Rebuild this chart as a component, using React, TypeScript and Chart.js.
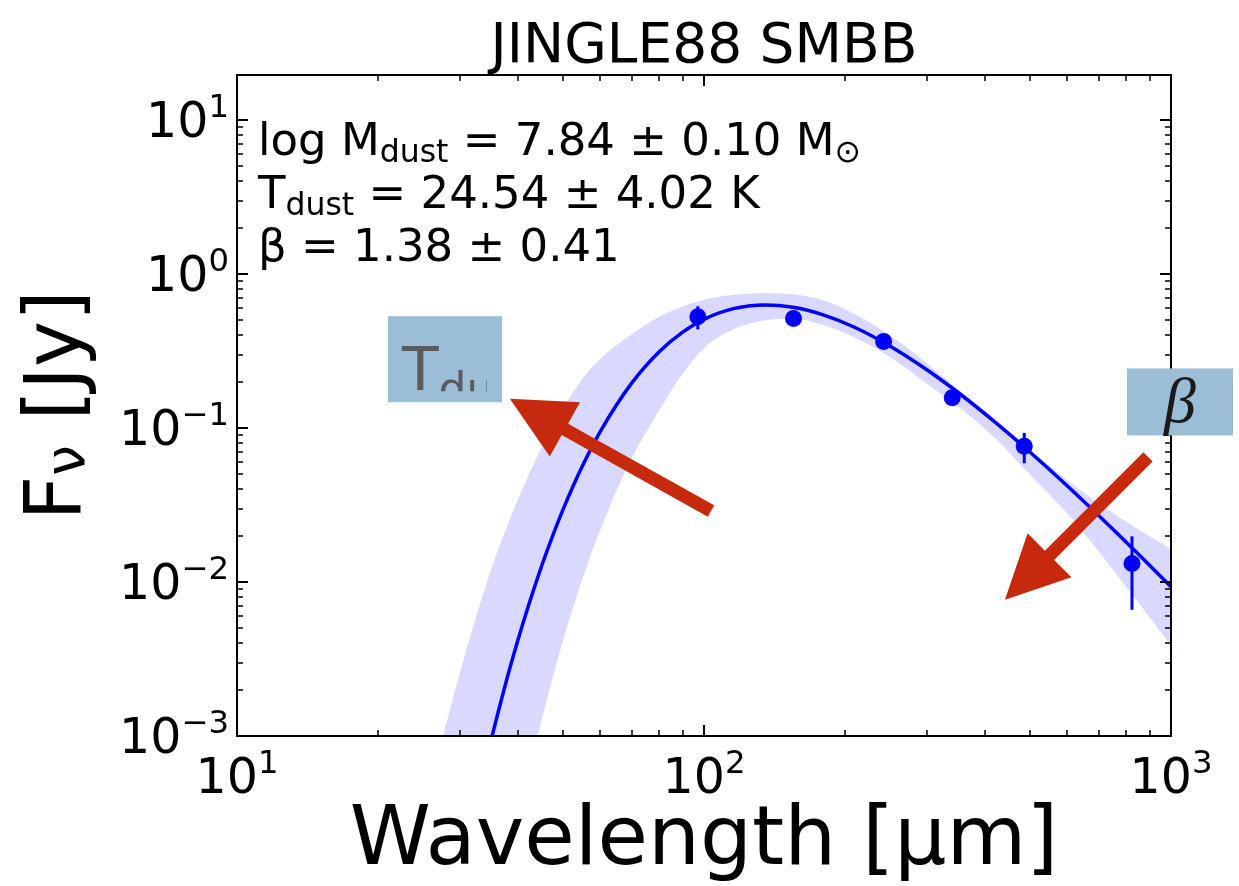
import { useEffect, useRef } from "react";
import { Chart, registerables } from "chart.js";
Chart.register(...registerables);

const W = 1239;
const H = 886;
const FONT = '"DejaVu Sans", "Noto Sans", sans-serif';
const BLUE = "#0000ff";
const RED = "#c7290c";
const BOXC = "#9bbdd5";

// Model SED, Jy
const wavelengths = [27, 30, 33, 35, 38, 40, 42, 45, 47, 50, 55, 60, 70, 80, 90, 100, 115, 135, 155, 180, 210, 250, 300, 350, 420, 500, 600, 700, 850, 1000];
const modelFlux = [2.04e-5, 1.13e-4, 4.4e-4, 9.39e-4, 2.46e-3, 4.25e-3, 6.89e-3, 0.01294, 0.01859, 0.02997, 0.0573, 0.0952, 0.1957, 0.3109, 0.4195, 0.5077, 0.5934, 0.63, 0.6085, 0.5433, 0.4513, 0.3411, 0.239, 0.17, 0.1092, 0.0693, 0.042, 0.027, 0.01523, 0.00931];
const upperFlux = [7.76e-4, 0.00256, 0.00693, 0.012, 0.0237, 0.0347, 0.0486, 0.0759, 0.0982, 0.1368, 0.21, 0.2818, 0.4055, 0.525, 0.615, 0.681, 0.731, 0.75, 0.738, 0.675, 0.55, 0.4, 0.2636, 0.1778, 0.1117, 0.0714, 0.0458, 0.0325, 0.022, 0.01644];
const lowerFlux = [1.7e-7, 1.8e-6, 1.1e-5, 3.2e-5, 1.37e-4, 2.84e-4, 5.5e-4, 0.0013, 0.00217, 0.00425, 0.0106, 0.0219, 0.0637, 0.1288, 0.225, 0.33, 0.435, 0.5, 0.513, 0.468, 0.387, 0.29, 0.194, 0.138, 0.0859, 0.0494, 0.0278, 0.0158, 0.00738, 0.00387];

// Observed photometry
const obsWave = [97, 155.5, 242.5, 340, 485, 825];
const obsFlux = [0.527, 0.514, 0.364, 0.157, 0.076, 0.0132];
const obsErr = [0.09, 0.03, 0.02, 0.012, 0.017, 0.0066];

// Axes
const xMin = 10;
const xMax = 1000;
const yMin = 0.001;
const yMax = 19.6;
const xMajorTicks = [10, 100, 1000];
const xTickExps = ["1", "2", "3"];
const yMajorTicks = [0.001, 0.01, 0.1, 1, 10];
const yTickExps = ["\u22123", "\u22122", "\u22121", "0", "1"];

const titleText = "JINGLE88 SMBB";
const xTitle = "Wavelength [\u00b5m]";

type Run = { t: string; sub?: boolean };
const infoLines: Run[][] = [
  [{ t: "log M" }, { t: "dust", sub: true }, { t: " = 7.84 \u00b1 0.10 M" }, { t: "\u2299", sub: true }],
  [{ t: "T" }, { t: "dust", sub: true }, { t: " = 24.54 \u00b1 4.02 K" }],
  [{ t: "\u03b2 = 1.38 \u00b1 0.41" }],
];

// Annotation anchors in data coordinates (wavelength, flux)
const tBoxAnchor = [21.05, 0.532];
const betaBoxAnchor = [805, 0.2437];
const arrowT = { from: [103.5, 0.0289], to: [38.4, 0.155] };
const arrowBeta = { from: [892.8, 0.065], to: [441, 0.00766] };

function minorTicks(lo: number, hi: number): number[] {
  const out: number[] = [];
  for (let e = Math.floor(Math.log10(lo)); e <= Math.ceil(Math.log10(hi)); e++) {
    for (let m = 2; m <= 9; m++) {
      const v = m * Math.pow(10, e);
      if (v > lo && v < hi) out.push(v);
    }
  }
  return out;
}

function drawSci(ctx: CanvasRenderingContext2D, exp: string, x: number, y: number, align: "right" | "center", size: number) {
  const sup = size * 0.66;
  ctx.font = `${size}px ${FONT}`;
  const wb = ctx.measureText("10").width;
  ctx.font = `${sup}px ${FONT}`;
  const we = ctx.measureText(exp).width;
  const total = wb + we;
  const x0 = align === "right" ? x - total : x - total / 2;
  ctx.textAlign = "left";
  ctx.textBaseline = "alphabetic";
  ctx.font = `${size}px ${FONT}`;
  ctx.fillText("10", x0, y);
  ctx.font = `${sup}px ${FONT}`;
  ctx.fillText(exp, x0 + wb, y - size * 0.41);
}

function drawRuns(ctx: CanvasRenderingContext2D, runs: Run[], x: number, y: number, size: number) {
  let cx = x;
  ctx.textAlign = "left";
  ctx.textBaseline = "alphabetic";
  for (const r of runs) {
    const s = r.sub ? size * 0.7 : size;
    ctx.font = `${s}px ${FONT}`;
    ctx.fillText(r.t, cx, r.sub ? y + size * 0.15 : y);
    cx += ctx.measureText(r.t).width;
  }
}

function drawArrow(ctx: CanvasRenderingContext2D, x1: number, y1: number, x2: number, y2: number) {
  const shaft = 13;
  const headL = 63;
  const headW = 62;
  const dx = x2 - x1;
  const dy = y2 - y1;
  const len = Math.hypot(dx, dy);
  const ux = dx / len;
  const uy = dy / len;
  const nx = -uy;
  const ny = ux;
  const bx = x2 - ux * headL;
  const by = y2 - uy * headL;
  ctx.beginPath();
  ctx.moveTo(x1 + (nx * shaft) / 2, y1 + (ny * shaft) / 2);
  ctx.lineTo(bx + (nx * shaft) / 2, by + (ny * shaft) / 2);
  ctx.lineTo(bx + (nx * headW) / 2, by + (ny * headW) / 2);
  ctx.lineTo(x2, y2);
  ctx.lineTo(bx - (nx * headW) / 2, by - (ny * headW) / 2);
  ctx.lineTo(bx - (nx * shaft) / 2, by - (ny * shaft) / 2);
  ctx.lineTo(x1 - (nx * shaft) / 2, y1 - (ny * shaft) / 2);
  ctx.closePath();
  ctx.fillStyle = RED;
  ctx.fill();
}

const decorPlugin = {
  id: "decor",
  beforeDraw(chart: any) {
    const ctx = chart.ctx;
    ctx.save();
    ctx.fillStyle = "#ffffff";
    ctx.fillRect(0, 0, chart.width, chart.height);
    ctx.restore();
  },
  beforeDatasetDraw(chart: any, args: any) {
    if (args.index !== 3) return;
    const ctx = chart.ctx;
    const xs = chart.scales.x;
    const ys = chart.scales.y;
    const { left, right, top, bottom } = chart.chartArea;
    ctx.save();
    ctx.beginPath();
    ctx.rect(left, top, right - left, bottom - top);
    ctx.clip();
    ctx.strokeStyle = BLUE;
    ctx.lineWidth = 3;
    obsWave.forEach((w, i) => {
      const px = xs.getPixelForValue(w);
      ctx.beginPath();
      ctx.moveTo(px, ys.getPixelForValue(obsFlux[i] + obsErr[i]));
      ctx.lineTo(px, ys.getPixelForValue(obsFlux[i] - obsErr[i]));
      ctx.stroke();
    });
    ctx.restore();
  },
  afterDraw(chart: any) {
    const ctx: CanvasRenderingContext2D = chart.ctx;
    const xs = chart.scales.x;
    const ys = chart.scales.y;
    const { left, right, top, bottom } = chart.chartArea;
    ctx.save();
    ctx.fillStyle = "#000";
    ctx.strokeStyle = "#000";

    // ticks (inward, all sides)
    const majL = 11;
    const minL = 6;
    ctx.lineWidth = 2;
    xMajorTicks.forEach((v) => {
      const p = Math.round(xs.getPixelForValue(v));
      ctx.beginPath();
      ctx.moveTo(p, bottom);
      ctx.lineTo(p, bottom - majL);
      ctx.moveTo(p, top);
      ctx.lineTo(p, top + majL);
      ctx.stroke();
    });
    yMajorTicks.forEach((v) => {
      const p = Math.round(ys.getPixelForValue(v));
      ctx.beginPath();
      ctx.moveTo(left, p);
      ctx.lineTo(left + majL, p);
      ctx.moveTo(right, p);
      ctx.lineTo(right - majL, p);
      ctx.stroke();
    });
    ctx.lineWidth = 1.5;
    minorTicks(xMin, xMax).forEach((v) => {
      const p = Math.round(xs.getPixelForValue(v));
      ctx.beginPath();
      ctx.moveTo(p, bottom);
      ctx.lineTo(p, bottom - minL);
      ctx.moveTo(p, top);
      ctx.lineTo(p, top + minL);
      ctx.stroke();
    });
    minorTicks(yMin, yMax).forEach((v) => {
      const p = Math.round(ys.getPixelForValue(v));
      ctx.beginPath();
      ctx.moveTo(left, p);
      ctx.lineTo(left + minL, p);
      ctx.moveTo(right, p);
      ctx.lineTo(right - minL, p);
      ctx.stroke();
    });
    // spines
    ctx.lineWidth = 2;
    ctx.strokeRect(left, top, right - left, bottom - top);

    // tick labels
    const tsz = 49;
    xMajorTicks.forEach((v, i) => {
      drawSci(ctx, xTickExps[i], xs.getPixelForValue(v), bottom + 57, "center", tsz);
    });
    yMajorTicks.forEach((v, i) => {
      drawSci(ctx, yTickExps[i], left - 8, ys.getPixelForValue(v) + 17, "right", tsz);
    });

    // title
    ctx.textAlign = "center";
    ctx.textBaseline = "alphabetic";
    ctx.font = `55px ${FONT}`;
    ctx.fillText(titleText, (left + right) / 2, 62);

    // x title
    ctx.font = `82px ${FONT}`;
    ctx.fillText(xTitle, (left + right) / 2, 864);

    // y title (rotated)
    ctx.save();
    ctx.translate(80, (top + bottom) / 2);
    ctx.rotate(-Math.PI / 2);
    ctx.textAlign = "left";
    const big = 78;
    ctx.font = `${big}px ${FONT}`;
    const wF = ctx.measureText("F").width;
    ctx.font = `${big * 0.7}px ${FONT}`;
    const wNu = ctx.measureText("\u03bd").width;
    ctx.font = `${big}px ${FONT}`;
    const wRest = ctx.measureText(" [Jy]").width;
    const tot = wF + wNu + wRest;
    let u = -tot / 2;
    ctx.fillText("F", u, 0);
    u += wF;
    ctx.font = `${big * 0.7}px ${FONT}`;
    ctx.fillText("\u03bd", u, 4);
    u += wNu;
    ctx.font = `${big}px ${FONT}`;
    ctx.fillText(" [Jy]", u, 0);
    ctx.restore();

    // info text
    ctx.fillStyle = "#000";
    const isz = 45;
    infoLines.forEach((runs, i) => {
      drawRuns(ctx, runs, left + 21, top + 80 + i * 53, isz);
    });

    // T_dust box
    const tbx = xs.getPixelForValue(tBoxAnchor[0]);
    const tby = ys.getPixelForValue(tBoxAnchor[1]);
    ctx.fillStyle = BOXC;
    ctx.fillRect(tbx, tby, 114, 86);
    ctx.save();
    ctx.beginPath();
    ctx.rect(tbx, tby, 99, 75);
    ctx.clip();
    ctx.fillStyle = "#5b5b5b";
    ctx.textAlign = "left";
    ctx.font = `60px ${FONT}`;
    ctx.fillText("T", tbx + 14, tby + 74);
    const wT = ctx.measureText("T").width;
    ctx.font = `44px ${FONT}`;
    ctx.fillText("dust", tbx + 14 + wT, tby + 88);
    ctx.restore();

    // beta box
    const bbx = xs.getPixelForValue(betaBoxAnchor[0]);
    const bby = ys.getPixelForValue(betaBoxAnchor[1]);
    ctx.fillStyle = BOXC;
    ctx.fillRect(bbx, bby, 106, 67);
    ctx.fillStyle = "#1a1a1a";
    ctx.textAlign = "center";
    ctx.font = `italic 64px "Liberation Serif", "DejaVu Serif", serif`;
    ctx.fillText("\u03b2", bbx + 53, bby + 54);

    // arrows
    drawArrow(
      ctx,
      xs.getPixelForValue(arrowT.from[0]),
      ys.getPixelForValue(arrowT.from[1]),
      xs.getPixelForValue(arrowT.to[0]),
      ys.getPixelForValue(arrowT.to[1])
    );
    drawArrow(
      ctx,
      xs.getPixelForValue(arrowBeta.from[0]),
      ys.getPixelForValue(arrowBeta.from[1]),
      xs.getPixelForValue(arrowBeta.to[0]),
      ys.getPixelForValue(arrowBeta.to[1])
    );
    ctx.restore();
  },
};

export default function App() {
  const ref = useRef<HTMLCanvasElement | null>(null);
  useEffect(() => {
    document.body.style.margin = "0";
    const canvas = ref.current;
    if (!canvas) return;
    const toXY = (ys: number[]) => wavelengths.map((w, i) => ({ x: w, y: ys[i] }));
    const chart = new Chart(canvas, {
      type: "line",
      data: {
        datasets: [
          {
            label: "upper",
            data: toXY(upperFlux),
            borderWidth: 0,
            pointRadius: 0,
            borderColor: "rgba(0,0,0,0)",
            backgroundColor: "rgba(0,0,255,0.15)",
            fill: "+1",
            cubicInterpolationMode: "monotone",
          },
          {
            label: "lower",
            data: toXY(lowerFlux),
            borderWidth: 0,
            pointRadius: 0,
            borderColor: "rgba(0,0,0,0)",
            fill: false,
            cubicInterpolationMode: "monotone",
          },
          {
            label: "model",
            data: toXY(modelFlux),
            borderColor: BLUE,
            borderWidth: 3.5,
            pointRadius: 0,
            fill: false,
            cubicInterpolationMode: "monotone",
          },
          {
            label: "obs",
            data: obsWave.map((w, i) => ({ x: w, y: obsFlux[i] })),
            showLine: false,
            pointRadius: 8.5,
            pointBackgroundColor: BLUE,
            pointBorderColor: BLUE,
            pointBorderWidth: 0,
            fill: false,
          },
        ] as any,
      },
      options: {
        animation: false,
        responsive: false,
        maintainAspectRatio: false,
        devicePixelRatio: 1,
        layout: { padding: { left: 237, right: W - 1171, top: 75, bottom: H - 736 } },
        plugins: { legend: { display: false }, title: { display: false }, tooltip: { enabled: false } },
        events: [],
        scales: {
          x: { type: "logarithmic", min: xMin, max: xMax, display: false },
          y: { type: "logarithmic", min: yMin, max: yMax, display: false },
        },
      } as any,
      plugins: [decorPlugin],
    });
    return () => chart.destroy();
  }, []);
  return (
    <div style={{ position: "fixed", left: 0, top: 0, width: W, height: H, background: "#fff" }}>
      <canvas ref={ref} width={W} height={H} style={{ width: W, height: H, display: "block" }} />
    </div>
  );
}
